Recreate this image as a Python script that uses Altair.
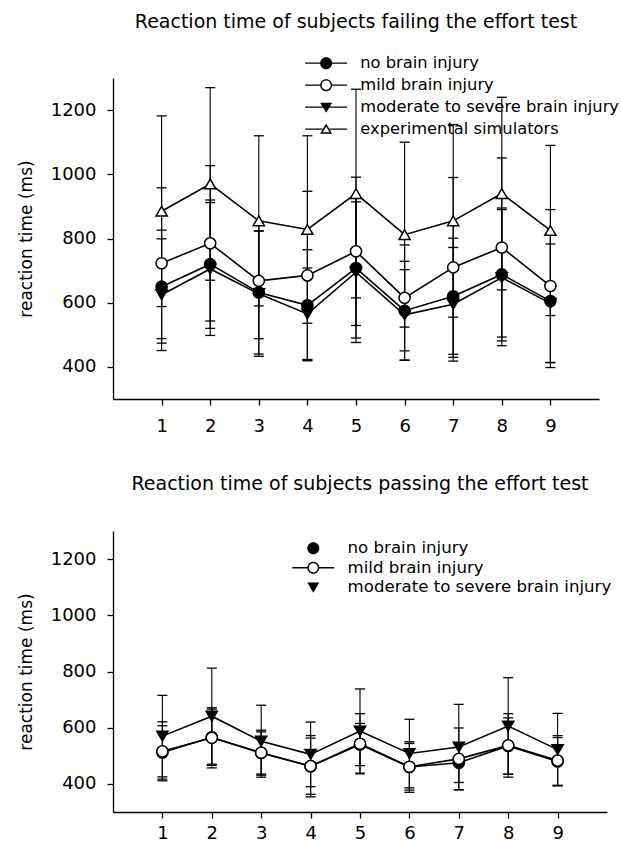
import altair as alt
import pandas as pd

FONT = "DejaVu Sans"

trials = [1, 2, 3, 4, 5, 6, 7, 8, 9]
y_ticks = [400, 600, 800, 1000, 1200]

# ---- failing the effort test ----
fail_series = ["no brain injury", "mild brain injury",
               "moderate to severe brain injury", "experimental simulators"]
fail_none_mean = [650, 720, 632, 592, 708, 575, 620, 688, 605]
fail_none_sd = [176, 200, 192, 173, 218, 154, 181, 207, 207]
fail_mild_mean = [723, 785, 668, 685, 760, 615, 710, 772, 652]
fail_mild_sd = [235, 242, 180, 262, 231, 165, 280, 279, 238]
fail_mod_mean = [625, 705, 628, 565, 695, 562, 595, 678, 598]
fail_mod_sd = [174, 207, 195, 143, 219, 141, 177, 212, 185]
fail_sim_mean = [885, 970, 855, 828, 940, 812, 855, 940, 825]
fail_sim_sd = [297, 300, 265, 292, 325, 288, 300, 300, 265]

# ---- passing the effort test ----
pass_series = ["no brain injury", "mild brain injury",
               "moderate to severe brain injury"]
pass_none_mean = [512, 566, 510, 463, 540, 460, 475, 535, 480]
pass_none_sd = [95, 100, 75, 100, 75, 90, 70, 100, 85]
pass_mild_mean = [516, 564, 511, 463, 543, 461, 489, 537, 483]
pass_mild_sd = [105, 107, 80, 109, 107, 83, 110, 113, 89]
pass_mod_mean = [570, 641, 552, 505, 588, 508, 531, 606, 522]
pass_mod_sd = [145, 171, 128, 115, 150, 122, 152, 172, 129]


def long_df(names, means, sds):
    rows = []
    for name, m, s in zip(names, means, sds):
        for t, mv, sv in zip(trials, m, s):
            rows.append({"series": name, "trial": t, "mean": mv,
                         "lo": mv - sv, "hi": mv + sv})
    return pd.DataFrame(rows)


fail_df = long_df(fail_series,
                  [fail_none_mean, fail_mild_mean, fail_mod_mean, fail_sim_mean],
                  [fail_none_sd, fail_mild_sd, fail_mod_sd, fail_sim_sd])
pass_df = long_df(pass_series,
                  [pass_none_mean, pass_mild_mean, pass_mod_mean],
                  [pass_none_sd, pass_mild_sd, pass_mod_sd])

# legend glyphs (filled outlines, unit box scaled by symbol size)
SEG_L = "M-3.5,-0.12L-0.9,-0.12L-0.9,0.12L-3.5,0.12Z"
SEG_R = "M0.9,-0.12L3.5,-0.12L3.5,0.12L0.9,0.12Z"
SEG_LT = "M-3.5,-0.12L-0.5,-0.12L-0.5,0.12L-3.5,0.12Z"
SEG_RT = "M0.5,-0.12L3.5,-0.12L3.5,0.12L0.5,0.12Z"
DISC = "M1,0A1,1 0 1,1 -1,0A1,1 0 1,1 1,0Z"
RING = DISC + "M0.76,0A0.76,0.76 0 1,0 -0.76,0A0.76,0.76 0 1,0 0.76,0Z"
TRI_DOWN = "M-1,-0.75L1,-0.75L0,0.95Z"
TRI_UP_OPEN = ("M0,-0.95L1,0.75L-1,0.75Z"
               "M0,-0.457L-0.563,0.5L0.563,0.5Z")
SEG_LU = "M-3.5,-0.12L-0.6,-0.12L-0.6,0.12L-3.5,0.12Z"
SEG_RU = "M0.6,-0.12L3.5,-0.12L3.5,0.12L0.6,0.12Z"

fail_legend_paths = [SEG_L + SEG_R + DISC, SEG_L + SEG_R + RING,
                     SEG_LT + SEG_RT + TRI_DOWN, SEG_LU + SEG_RU + TRI_UP_OPEN]
pass_legend_paths = [DISC, SEG_L + SEG_R + RING, TRI_DOWN]


def panel(df, names, fills, shapes, legend_paths, title, title_offset,
          xlabel_pad, width, height, legend_x, legend_y, row_pad, label_size):
    xscale = alt.Scale(domain=[0, 10], nice=False)
    yscale = alt.Scale(domain=[300, 1300], nice=False)
    xaxis = alt.Axis(values=trials, format="d", title=None, grid=False,
                     labelPadding=xlabel_pad)
    yaxis = alt.Axis(values=y_ticks, format="d", title="reaction time (ms)",
                     grid=False, labelPadding=11, titlePadding=15)
    base = alt.Chart(df)
    X = alt.X("trial:Q", scale=xscale, axis=xaxis)

    bars = base.mark_rule(color="black", strokeWidth=1.1).encode(
        x=X, y=alt.Y("lo:Q", scale=yscale, axis=yaxis), y2="hi:Q")
    cap_lo = base.mark_tick(orient="horizontal", size=10, thickness=1.3,
                            color="black", opacity=1).encode(
        x=X, y=alt.Y("lo:Q", scale=yscale, axis=yaxis))
    cap_hi = base.mark_tick(orient="horizontal", size=10, thickness=1.3,
                            color="black", opacity=1).encode(
        x=X, y=alt.Y("hi:Q", scale=yscale, axis=yaxis))
    lines = base.mark_line(color="black", strokeWidth=1.6).encode(
        x=X, y=alt.Y("mean:Q", scale=yscale, axis=yaxis),
        detail="series:N")
    pts = base.mark_point(filled=True, stroke="black", strokeWidth=1.5,
                          size=125, opacity=1).encode(
        x=X, y=alt.Y("mean:Q", scale=yscale, axis=yaxis),
        shape=alt.Shape("series:N", scale=alt.Scale(domain=names, range=shapes),
                        legend=None),
        fill=alt.Fill("series:N", scale=alt.Scale(domain=names, range=fills),
                      legend=None))
    leg = base.mark_point(filled=True, fill="black", opacity=0, size=144).encode(
        x=X, y=alt.Y("mean:Q", scale=yscale, axis=yaxis),
        shape=alt.Shape("series:N",
                        scale=alt.Scale(domain=names, range=legend_paths),
                        legend=alt.Legend(title=None, orient="none",
                                          direction="vertical",
                                          legendX=legend_x, legendY=legend_y,
                                          padding=0, symbolSize=144,
                                          symbolOpacity=1,
                                          symbolFillColor="black",
                                          symbolStrokeWidth=0,
                                          labelOffset=26, rowPadding=row_pad,
                                          labelFont=FONT,
                                          labelFontSize=label_size,
                                          labelColor="black",
                                          labelLimit=400)))
    return alt.layer(bars, cap_lo, cap_hi, lines, pts, leg).resolve_scale(
        shape="independent", fill="independent").properties(
        width=width, height=height,
        title=alt.TitleParams(text=title, font=FONT, fontSize=19,
                              fontWeight="normal", color="black",
                              baseline="alphabetic", offset=title_offset,
                              anchor="middle", frame="group"))


top = panel(fail_df, fail_series, ["black", "white", "black", "white"],
            ["circle", "circle", "triangle-down", "triangle-up"],
            fail_legend_paths,
            "Reaction time of subjects failing the effort test",
            8, 12, 486, 321, 205, -23, 5, 16.3)
bottom = panel(pass_df, pass_series, ["black", "white", "black"],
               ["circle", "circle", "triangle-down"],
               pass_legend_paths,
               "Reaction time of subjects passing the effort test",
               22, 6, 494, 281, 192, 9, 2.4, 16.6)

chart = alt.vconcat(top, bottom, spacing=40).properties(
    padding={"left": 17, "top": 13, "right": 0, "bottom": 0}
).configure_view(stroke=None).configure_axis(
    domainColor="black", domainWidth=1.3, tickColor="black", tickWidth=1.3,
    tickSize=6, labelFont=FONT, labelFontSize=18, labelColor="black",
    titleFont=FONT, titleFontSize=17, titleFontWeight="normal",
    titleColor="black")

chart.save("out.html", embed_options={"renderer": "svg", "actions": False})
